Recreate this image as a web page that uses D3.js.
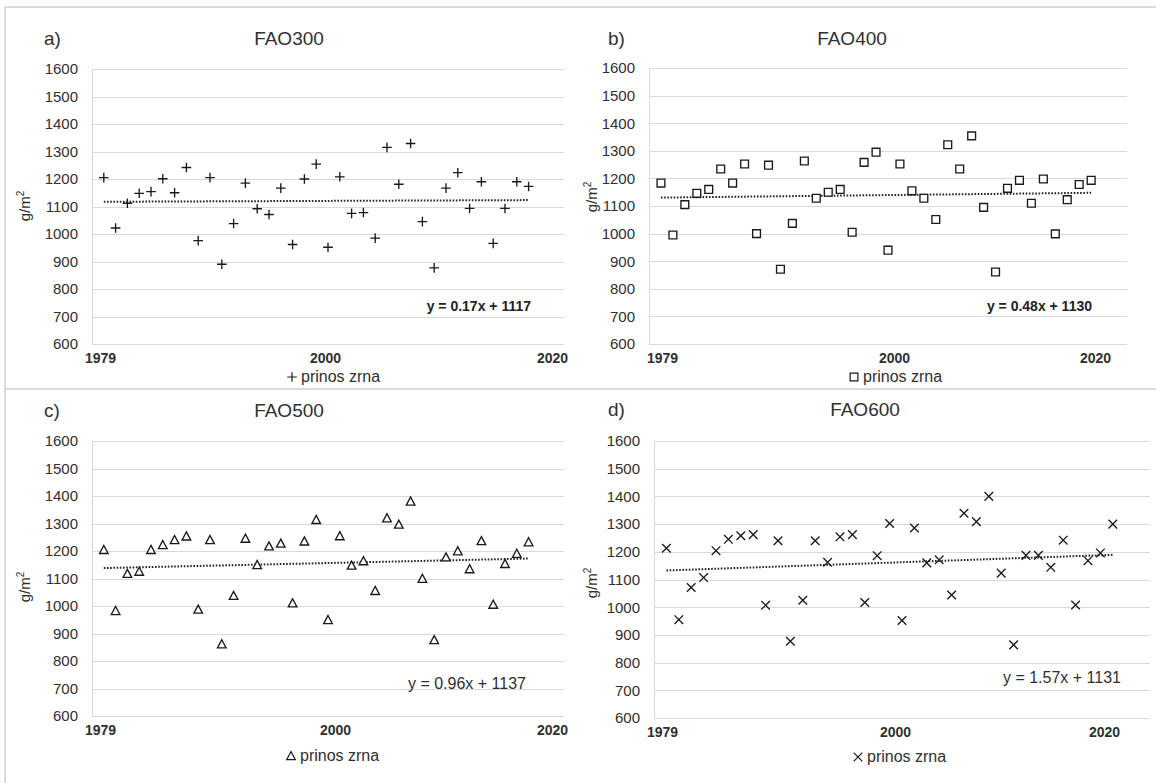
<!DOCTYPE html>
<html>
<head>
<meta charset="utf-8">
<script src="https://cdn.jsdelivr.net/npm/d3@7/dist/d3.min.js"></script>
<style>
  html, body { margin: 0; padding: 0; background: #fff; }
  svg { display: block; font-family: "Liberation Sans", Arial, sans-serif; }
</style>
</head>
<body>
<svg id="chart" width="1156" height="783"></svg>
<script>
// ---------------- DATA ----------------
const panelLetters = ["a)", "b)", "c)", "d)"];
const panelTitles = ["FAO300", "FAO400", "FAO500", "FAO600"];
const markerTypes = ["plus", "square", "triangle", "cross"];
const legendLabel = "prinos zrna";

const yieldFAO300 = [1205,1022,1112,1148,1154,1201,1150,1242,976,1205,890,1038,1185,1092,1071,1167,962,1200,1254,952,1208,1075,1078,985,1315,1181,1329,1045,877,1167,1223,1093,1190,966,1093,1190,1173];
const yieldFAO400 = [1183,995,1105,1146,1160,1234,1183,1252,1000,1248,871,1037,1263,1128,1150,1160,1005,1258,1295,940,1252,1155,1128,1051,1322,1234,1354,1095,861,1164,1193,1110,1198,999,1123,1178,1193];
const yieldFAO500 = [1204,982,1117,1125,1204,1222,1240,1253,987,1240,861,1037,1245,1149,1217,1227,1010,1235,1313,949,1254,1147,1163,1055,1319,1296,1380,1099,876,1177,1199,1134,1236,1005,1153,1190,1232];
const yieldFAO600 = [1213,955,1071,1107,1204,1245,1258,1262,1007,1240,877,1025,1240,1162,1254,1262,1017,1186,1302,952,1286,1160,1171,1044,1339,1309,1400,1123,864,1187,1187,1144,1242,1008,1168,1196,1300];

const trendSlopes = [0.17, 0.48, 0.96, 1.57];
const trendIntercepts = [1117, 1130, 1137, 1131];
const equationLabels = ["y = 0.17x + 1117", "y = 0.48x + 1130", "y = 0.96x + 1137", "y = 1.57x + 1131"];

const yTickValues = [600, 700, 800, 900, 1000, 1100, 1200, 1300, 1400, 1500, 1600];
const yearTickValues = [1979, 2000, 2020];
const xIndexDomain = [0, 40];
const yDomain = [600, 1600];

const seriesList = [yieldFAO300, yieldFAO400, yieldFAO500, yieldFAO600];

// ---------------- LAYOUT ----------------
const layout = [
  {x0:92,  x1:564,  yTop:69,  yBot:344, letterX:44,  titleX:289, titleY:45,  yrPx:[100, 325, 552],  legX:292, legY:382, eqX:531,  eqY:311, eqBold:true,  ylabX:30,  ylabY:206},
  {x0:649, x1:1127, yTop:68,  yBot:344, letterX:608, titleX:852, titleY:45,  yrPx:[662, 894, 1095], legX:854, legY:382, eqX:1092, eqY:311, eqBold:true,  ylabX:597, ylabY:197},
  {x0:92,  x1:564,  yTop:441, yBot:716, letterX:44,  titleX:289, titleY:417, yrPx:[100, 335, 552],  legX:291, legY:761, eqX:526,  eqY:689, eqBold:false, ylabX:30,  ylabY:587},
  {x0:654, x1:1150, yTop:441, yBot:718, letterX:608, titleX:865, titleY:416, yrPx:[662, 895, 1104], legX:858, legY:762, eqX:1121, eqY:683, eqBold:false, ylabX:597, ylabY:583}
];

const textColor = "#303030";
const gridColor = "#d9d9d9";
const markColor = "#1a1a1a";

const svg = d3.select("#chart");

// figure frame lines
const frame = svg.append("g").attr("stroke", "#cfcfcf").attr("stroke-width", 1.5);
frame.append("line").attr("x1", 5).attr("x2", 1156).attr("y1", 7).attr("y2", 7);
frame.append("line").attr("x1", 5).attr("x2", 5).attr("y1", 7).attr("y2", 783);
frame.append("line").attr("x1", 5).attr("x2", 1156).attr("y1", 389).attr("y2", 389);

function markerPath(type) {
  switch (type) {
    case "plus": return "M-4.8,0H4.8M0,-4.8V4.8";
    case "square": return "M-3.9,-3.9H3.9V3.9H-3.9Z";
    case "triangle": return "M0,-4.5L4.3,3.6H-4.3Z";
    case "cross": return "M-4.3,-4.3L4.3,4.3M-4.3,4.3L4.3,-4.3";
  }
}

seriesList.forEach((values, p) => {
  const L = layout[p];
  const g = svg.append("g");
  const x = d3.scaleLinear().domain(xIndexDomain).range([L.x0, L.x1]);
  const y = d3.scaleLinear().domain(yDomain).range([L.yBot, L.yTop]);
  const yr = d3.scaleLinear().domain(yearTickValues).range(L.yrPx);

  g.append("g").selectAll("line").data(yTickValues).join("line")
    .attr("x1", L.x0).attr("x2", L.x1)
    .attr("y1", d => Math.round(y(d)) + 0.5).attr("y2", d => Math.round(y(d)) + 0.5)
    .attr("stroke", gridColor).attr("stroke-width", 1);
  g.append("line")
    .attr("x1", Math.round(L.x0) + 0.5).attr("x2", Math.round(L.x0) + 0.5)
    .attr("y1", y(1600)).attr("y2", y(600))
    .attr("stroke", gridColor).attr("stroke-width", 1);

  const yAxis = d3.axisLeft(y).tickValues(yTickValues).tickSize(0).tickPadding(14).tickFormat(d3.format("d"));
  const ya = g.append("g").attr("transform", `translate(${L.x0},0)`).call(yAxis);
  ya.select(".domain").remove();
  ya.selectAll("text").attr("font-size", 15).attr("fill", textColor)
    .attr("font-family", "'Liberation Sans', Arial, sans-serif");

  const xAxis = d3.axisBottom(yr).tickValues(yearTickValues).tickSize(0).tickPadding(9).tickFormat(d3.format("d"));
  const xa = g.append("g").attr("transform", `translate(0,${L.yBot})`).call(xAxis);
  xa.select(".domain").remove();
  xa.selectAll("text").attr("font-size", 14).attr("font-weight", "bold").attr("fill", textColor)
    .attr("font-family", "'Liberation Sans', Arial, sans-serif");

  const yl = g.append("text")
    .attr("transform", `translate(${L.ylabX},${L.ylabY}) rotate(-90)`)
    .attr("text-anchor", "middle").attr("font-size", 15).attr("fill", textColor);
  yl.append("tspan").text("g/m");
  yl.append("tspan").attr("font-size", 10).attr("dy", -6).text("2");

  g.append("text").attr("x", L.letterX).attr("y", L.titleY)
    .attr("font-size", 19).attr("fill", textColor).text(panelLetters[p]);
  g.append("text").attr("x", L.titleX).attr("y", L.titleY).attr("text-anchor", "middle")
    .attr("font-size", 19).attr("fill", textColor).text(panelTitles[p]);

  const idx = [1, values.length];
  const line = d3.line().x(d => x(d)).y(d => y(trendSlopes[p] * d + trendIntercepts[p]));
  g.append("path").datum(idx).attr("d", line)
    .attr("fill", "none").attr("stroke", "#222").attr("stroke-width", 2)
    .attr("stroke-dasharray", "1.6,1.6");

  g.append("g").selectAll("path").data(values).join("path")
    .attr("transform", (d, i) => `translate(${x(i + 1)},${y(d)})`)
    .attr("d", markerPath(markerTypes[p]))
    .attr("fill", markerTypes[p] === "square" || markerTypes[p] === "triangle" ? "#fff" : "none")
    .attr("stroke", markColor).attr("stroke-width", 1.35);

  g.append("text").attr("x", L.eqX).attr("y", L.eqY).attr("text-anchor", "end")
    .attr("font-size", L.eqBold ? 14 : 16).attr("font-weight", L.eqBold ? "bold" : "normal")
    .attr("fill", L.eqBold ? "#222" : textColor).text(equationLabels[p]);

  g.append("path").attr("transform", `translate(${L.legX},${L.legY - 5})`)
    .attr("d", markerPath(markerTypes[p]))
    .attr("fill", "none").attr("stroke", markColor).attr("stroke-width", 1.2);
  g.append("text").attr("x", L.legX + 9).attr("y", L.legY)
    .attr("font-size", 16).attr("fill", textColor).text(legendLabel);
});
</script>
</body>
</html>
